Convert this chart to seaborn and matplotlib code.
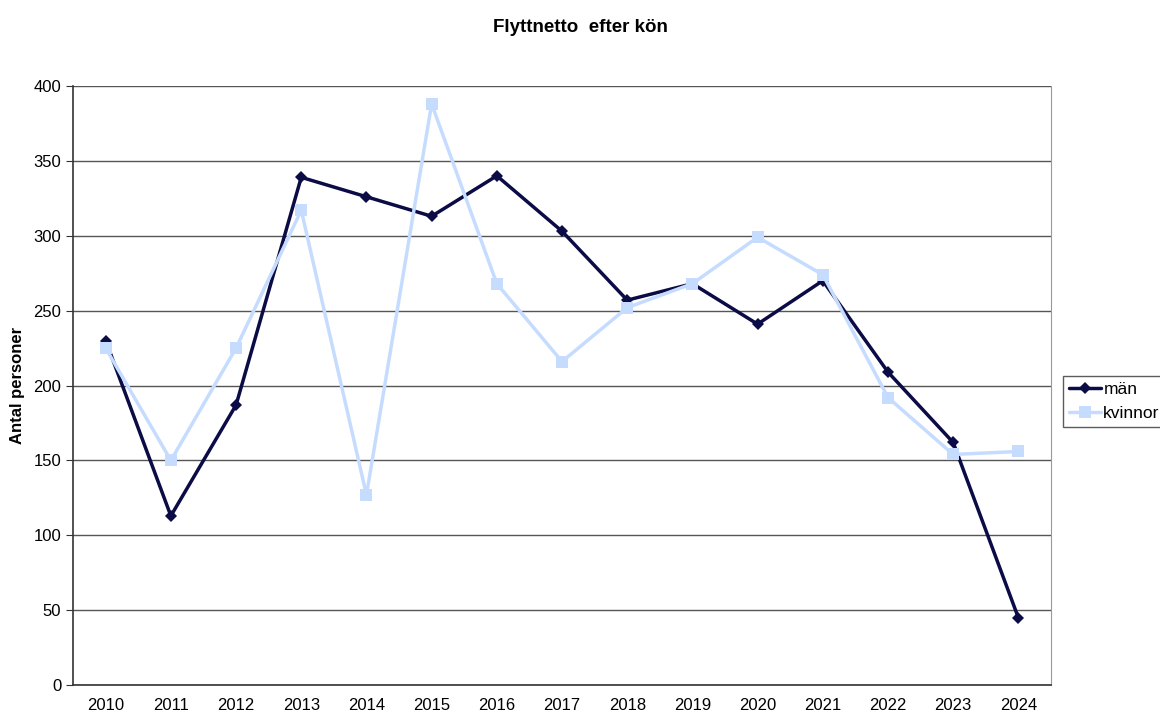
import pandas as pd
import numpy as np
import seaborn as sns
import matplotlib.pyplot as plt
from matplotlib.ticker import FixedLocator
from matplotlib.lines import Line2D

years = ['2010', '2011', '2012', '2013', '2014', '2015', '2016', '2017',
         '2018', '2019', '2020', '2021', '2022', '2023', '2024']
man = [230, 113, 187, 339, 326, 313, 340, 303, 257, 268, 241, 270, 209, 162, 45]
kvinnor = [225, 150, 225, 317, 127, 388, 268, 216, 252, 268, 299, 274, 192, 154, 156]

df = pd.DataFrame({
    'pos': list(range(len(years))) * 2,
    'value': man + kvinnor,
    'serie': ['män'] * len(years) + ['kvinnor'] * len(years),
})

sns.set_style('white', {'text.color': 'black', 'xtick.color': 'black',
                        'ytick.color': 'black', 'axes.labelcolor': 'black'})
plt.rcParams['font.family'] = ['Liberation Sans', 'DejaVu Sans']

fig = plt.figure(figsize=(11.6, 7.13), dpi=100)
ax = fig.add_axes([0.063, 0.039, 0.843, 0.8405])

palette = {'män': '#0b0b45', 'kvinnor': '#c6dcff'}
sns.lineplot(data=df, x='pos', y='value', hue='serie', style='serie',
             palette=palette, markers={'män': 'D', 'kvinnor': 's'},
             dashes=False, linewidth=2.5, ax=ax, legend=False)
for line, ms in zip(ax.lines, [6, 9]):
    line.set_markersize(ms)
    line.set_markeredgewidth(0)

ax.set_xlim(-0.5, len(years) - 0.5)
ax.set_ylim(0, 400)
ax.set_yticks(range(0, 401, 50))
ax.yaxis.grid(True, color='#555555', linewidth=1)
ax.set_axisbelow(True)

ax.set_xticks(range(len(years)))
ax.set_xticklabels(years, fontsize=12)
ax.tick_params(axis='x', length=0, pad=9)
ax.xaxis.set_minor_locator(FixedLocator(np.arange(-0.5, len(years), 1)))
ax.tick_params(axis='x', which='minor', length=5, color='#333333', direction='out')
ax.tick_params(axis='y', length=5, color='#333333', direction='out', labelsize=12, left=True)

for s in ['left', 'bottom']:
    ax.spines[s].set_color('#333333')
    ax.spines[s].set_linewidth(1.2)
ax.spines['right'].set_color('#999999')
ax.spines['top'].set_visible(False)

ax.set_xlabel('')
ax.set_ylabel('Antal personer', fontsize=12, fontweight='bold', labelpad=6)
fig.suptitle('Flyttnetto  efter kön', fontsize=13.5, fontweight='bold', y=0.973)

handles = [Line2D([], [], color=palette['män'], marker='D', markersize=6, linewidth=2.5, markeredgewidth=0),
           Line2D([], [], color=palette['kvinnor'], marker='s', markersize=9, linewidth=2.5, markeredgewidth=0)]
leg = fig.legend(handles, ['män', 'kvinnor'], loc='center left', bbox_to_anchor=(0.916, 0.437),
                 frameon=True, fancybox=False, edgecolor='#333333', fontsize=12.5,
                 handlelength=1.85, handletextpad=0.15, borderpad=0.35, labelspacing=0.5,
                 borderaxespad=0)
leg.get_frame().set_linewidth(1)

fig.savefig('out.png', dpi=100)
